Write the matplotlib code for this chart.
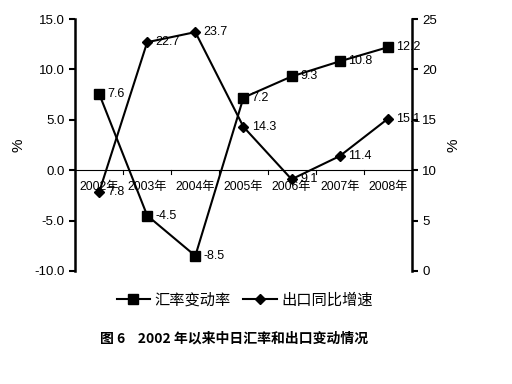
import matplotlib
matplotlib.use("Agg")
import matplotlib.pyplot as plt
import numpy as np

plt.rcParams['font.family'] = ['Liberation Sans', 'Noto Sans CJK SC', 'DejaVu Sans']

# --- data ---
years = ["2002年", "2003年", "2004年", "2005年", "2006年", "2007年", "2008年"]
fx_change = [7.6, -4.5, -8.5, 7.2, 9.3, 10.8, 12.2]
export_growth = [7.8, 22.7, 23.7, 14.3, 9.1, 11.4, 15.1]
fx_name = "汇率变动率"
export_name = "出口同比增速"
title = "图 6    2002 年以来中日汇率和出口变动情况"

fig = plt.figure(figsize=(5.12, 3.84), dpi=100)
ax = fig.add_axes([0.1465, 0.2943, 0.658, 0.6562])
ax2 = ax.twinx()

x = np.arange(len(years))
l1, = ax.plot(x, fx_change, color="black", lw=1.5, marker="s", ms=7, label=fx_name)
l2, = ax2.plot(x, export_growth, color="black", lw=1.5, marker="D", ms=5.5, label=export_name)

for xi, v in zip(x, fx_change):
    ax.annotate(f"{v:.1f}", (xi, v), xytext=(6, 0), textcoords="offset points",
                va="center", ha="left", fontsize=9)
for xi, v in zip(x, export_growth):
    ax2.annotate(f"{v:.1f}", (xi, v), xytext=(6, 0), textcoords="offset points",
                 va="center", ha="left", fontsize=9)

ax.set_xlim(-0.5, len(years) - 0.5)
ax.set_ylim(-10, 15)
ax2.set_ylim(0, 25)
ax.set_yticks(np.arange(-10, 15.1, 5))
ax.set_yticklabels([f"{v:.1f}" for v in np.arange(-10, 15.1, 5)], fontsize=9.5)
ax2.set_yticks(np.arange(0, 26, 5))
ax2.set_yticklabels([str(v) for v in range(0, 26, 5)], fontsize=9.5)

# category axis crossing at zero
ax.axhline(0, color="black", lw=0.8, zorder=1)
ax.set_xticks(x)
ax.set_xticklabels([])
ax.tick_params(axis="x", length=0)
for xb in np.arange(0.5, len(years) - 0.5, 1):
    ax.plot([xb, xb], [0, -0.35], color="black", lw=0.8, clip_on=False)
for xi, lab in zip(x, years):
    ax.text(xi, -1.1, lab, ha="center", va="top", fontsize=8.8)

for a in (ax, ax2):
    a.spines["top"].set_visible(False)
    a.spines["bottom"].set_visible(False)
ax.spines["right"].set_visible(False)
ax.spines["left"].set_linewidth(1.8)
ax2.spines["left"].set_visible(False)
ax2.spines["right"].set_linewidth(1.8)
ax.tick_params(axis="y", width=1.5, length=4)
ax2.tick_params(axis="y", width=1.5, length=4)

ax.set_ylabel("%", fontsize=11, labelpad=6)
ax2.set_ylabel("%", fontsize=11, labelpad=7)

fig.legend([l1, l2], [fx_name, export_name], loc="center", bbox_to_anchor=(0.478, 0.218),
           ncol=2, frameon=False, fontsize=11, handlelength=2.2, columnspacing=0.8,
           handletextpad=0.3)

fig.text(0.195, 0.118, title, fontsize=10, fontweight="bold",
         family=["Noto Sans CJK SC"], ha="left", va="center")

fig.savefig("out.png", dpi=100)
